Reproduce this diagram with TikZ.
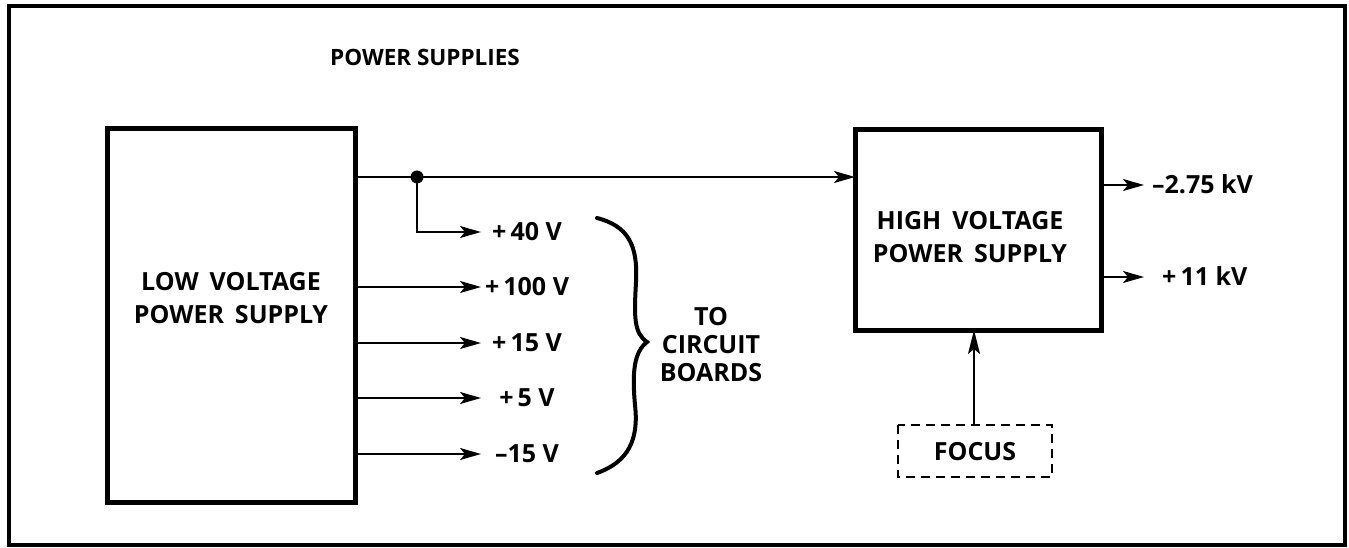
\documentclass[tikz,border=0pt]{standalone}
\usepackage{fontspec}
\setmainfont{Open Sans}
\usetikzlibrary{arrows.meta}
\begin{document}
\begin{tikzpicture}[x=1pt,y=-1pt,
  lbl/.style={font=\fontsize{25}{29}\selectfont\bfseries, inner sep=0pt},
  blk/.style={draw, line width=5pt},
  conn/.style={line width=1.9pt, -{Stealth[length=21pt,width=12pt,inset=5pt]}},
  wire/.style={line width=1.9pt}]
\useasboundingbox (0,0) rectangle (1349,548);
\fill[white] (0,0) rectangle (1349,548);
\draw[line width=4.5pt] (9,6) rectangle (1345,545);
\node[lbl, font=\fontsize{22.5}{27}\selectfont\bfseries] (title) at (425,57) {POWER SUPPLIES};
% boxes
\draw[blk] (107,129) rectangle (355,502);
\coordinate (lvR) at (355,177);
\node[lbl, align=center] (lv) at (231,298) {LOW\hspace{11pt}VOLTAGE\\[4pt]POWER\hspace{11pt}SUPPLY};
\draw[blk] (855,130) rectangle (1101,330);
\coordinate (hvL) at (855,177);
\node[lbl, align=center] (hv) at (970,237) {HIGH\hspace{11pt}VOLTAGE\\[4pt]POWER\hspace{11pt}SUPPLY};
% main line and junction
\coordinate (j) at (417,177);
\draw[conn] (lvR) -- (hvL);
\fill (j) circle (6.5pt);
% outputs
\coordinate (b40) at (417,232);
\coordinate (t40) at (481,232);
\draw[conn] (j) -- (b40) -- (t40);
\node[lbl] (v40) at (527,232) {+\,40 V};
\foreach \y/\n/\t in {287/v100/{+\,100 V},343/v15/{+\,15 V},398/v5/{+\,5 V},454/vm15/{--15 V}}{
  \coordinate (s\n) at (355,\y);
  \coordinate (e\n) at (481,\y);
  \draw[conn] (s\n) -- (e\n);
  \node[lbl] (\n) at (527,\y) {\t};
}
% brace
\draw[line width=4pt, line cap=round]
  (597,218) .. controls (628,226) and (638,245) .. (636,282)
  .. controls (634,318) and (634,333) .. (647,342)
  .. controls (634,352) and (632,372) .. (635,405)
  .. controls (639,440) and (628,462) .. (597,473);
\node[lbl, align=center] (tcb) at (711,345) {TO\\[-1pt]CIRCUIT\\[-1pt]BOARDS};
% HV outputs
\coordinate (hv1s) at (1101,185);
\coordinate (hv1e) at (1144,185);
\draw[conn] (hv1s) -- (hv1e);
\node[lbl, anchor=west] (kv1) at (1152,184) {--2.75 kV};
\coordinate (hv2s) at (1101,277);
\coordinate (hv2e) at (1144,277);
\draw[conn] (hv2s) -- (hv2e);
\node[lbl, anchor=west] (kv2) at (1162,276) {+\,11 kV};
% focus
\draw[line width=2.2pt, dash pattern=on 9pt off 6pt] (898,425) rectangle (1052,477);
\node[lbl] (focus) at (975,452) {FOCUS};
\coordinate (ft) at (974,425);
\coordinate (hvB) at (974,330);
\draw[line width=2.2pt, -{Stealth[length=24pt,width=12pt,inset=5pt]}] (ft) -- (hvB);
\end{tikzpicture}
\end{document}
